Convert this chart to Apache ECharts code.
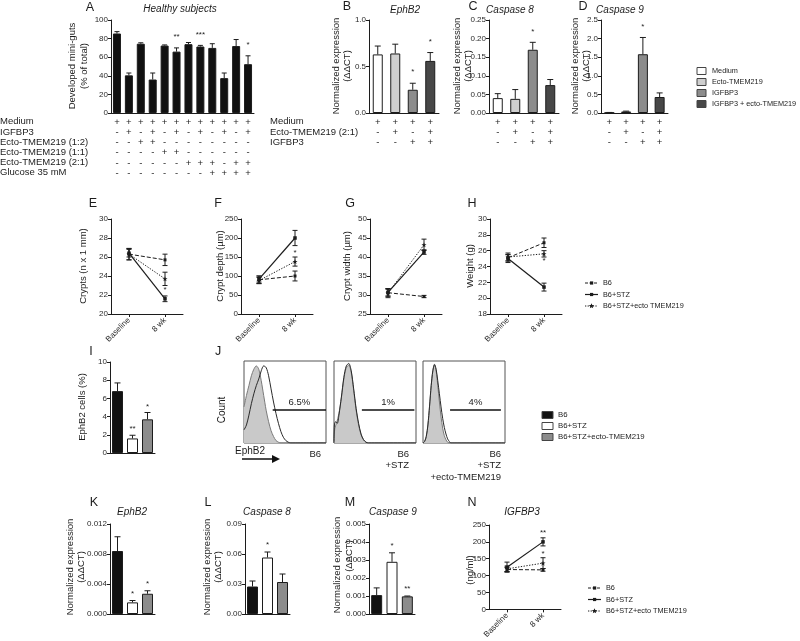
<!DOCTYPE html>
<html><head><meta charset="utf-8"><title>Figure</title>
<script src="https://cdn.jsdelivr.net/npm/echarts/dist/echarts.min.js"></script>
<style>html,body{margin:0;padding:0;background:#fff;}#chart{width:800px;height:641px;}</style>
</head><body><div id="chart"></div>
<script>
// ================= DATA =================
// Panel A
const aColumns = ['c1','c2','c3','c4','c5','c6','c7','c8','c9','c10','c11','c12'];
const aRowNames = ['Medium','IGFBP3','Ecto-TMEM219 (1:2)','Ecto-TMEM219 (1:1)','Ecto-TMEM219 (2:1)','Glucose 35 mM'];
const aSigns = [
  ['+','+','+','+','+','+','+','+','+','+','+','+'],
  ['-','+','-','+','-','+','-','+','-','+','-','+'],
  ['-','-','+','+','-','-','-','-','-','-','-','-'],
  ['-','-','-','-','+','+','-','-','-','-','-','-'],
  ['-','-','-','-','-','-','+','+','+','-','+','+'],
  ['-','-','-','-','-','-','-','-','+','+','+','+']
];
const aValues = [85.5, 40.5, 74.5, 36, 72.5, 66, 74, 71.5, 70, 37.5, 72, 52.5];
const aErrTop = [87.5, 43, 75.5, 43, 73.2, 70, 75.8, 72.7, 74.5, 43, 79, 61.5];
const aStars  = ['', '', '', '', '', '**', '', '***', '', '', '', '*'];
const aAxis = [0, 100, 20, 0];

// Panels B, C, D
const bcdColumns = ['m','e','i','ie'];
const bcdRowNames = ['Medium','Ecto-TMEM219 (2:1)','IGFBP3'];
const bcdSigns = [['+','+','+','+'],['-','+','-','+'],['-','-','+','+']];
const bcdLegend = ['Medium','Ecto-TMEM219','IGFBP3','IGFBP3 + ecto-TMEM219'];
const bValues = [0.63, 0.64, 0.25, 0.56];
const bErrTop = [0.72, 0.74, 0.32, 0.65];
const bStars  = ['', '', '*', '*'];
const bAxis = [0, 1, 0.5, 1];
const cValues = [0.040, 0.038, 0.170, 0.075];
const cErrTop = [0.052, 0.063, 0.190, 0.090];
const cStars  = ['', '', '*', ''];
const cAxis = [0, 0.25, 0.05, 2];
const dValues = [0.01, 0.04, 1.58, 0.43];
const dErrTop = [0.015, 0.05, 2.03, 0.54];
const dStars  = ['', '', '*', ''];
const dAxis = [0, 2.5, 0.5, 1];

// Panels E-H, N (time course)
const timeLabels = ['Baseline','8 wk'];
const groupNames = ['B6','B6+STZ','B6+STZ+ecto TMEM219'];
const eB6 = [26.3, 25.7],  eB6Sd = [0.6, 0.6];
const eSTZ = [26.4, 21.6], eSTZSd = [0.4, 0.3];
const eEcto = [26.3, 23.7], eEctoSd = [0.6, 0.7];
const eStarAt = [[1, 22.5]], eStarText = ['*'];
const eAxis = [20, 30, 2, 0];
const fB6 = [90, 100],  fB6Sd = [10, 13];
const fSTZ = [92, 200], fSTZSd = [8, 20];
const fEcto = [88, 138], fEctoSd = [8, 12];
const fStarAt = [[1, 160]], fStarText = ['*'];
const fAxis = [0, 250, 50, 0];
const gB6 = [30.6, 29.6],  gB6Sd = [0.9, 0.3];
const gSTZ = [30.7, 41.3], gSTZSd = [1.0, 0.6];
const gEcto = [30.5, 43.2], gEctoSd = [1.2, 1.5];
const gStarAt = [], gStarText = [];
const gAxis = [25, 50, 5, 0];
const hB6 = [25.1, 27.0],  hB6Sd = [0.4, 0.6];
const hSTZ = [25.0, 21.4], hSTZSd = [0.5, 0.5];
const hEcto = [25.2, 25.6], hEctoSd = [0.5, 0.4];
const hStarAt = [[1, 24.7]], hStarText = ['*'];
const hAxis = [18, 30, 2, 0];
const nB6 = [118, 117],  nB6Sd = [6, 4];
const nSTZ = [125, 200], nSTZSd = [15, 12];
const nEcto = [120, 137], nEctoSd = [8, 16];
const nStarAt = [[1, 228], [1, 165]], nStarText = ['**', '*'];
const nAxis = [0, 250, 50, 0];

// Panels I, K, L, M
const mouseGroups = ['B6','B6+STZ','B6+STZ+ecto-TMEM219'];
const iValues = [6.8, 1.6, 3.7],  iErrTop = [7.7, 1.95, 4.45], iStars = ['', '**', '*'];
const iAxis = [0, 10, 2, 0];
const kValues = [0.0084, 0.00155, 0.0027], kErrTop = [0.0103, 0.0018, 0.0031], kStars = ['', '*', '*'];
const kAxis = [0, 0.012, 0.004, 3];
const lValues = [0.0275, 0.0565, 0.032], lErrTop = [0.033, 0.062, 0.040], lStars = ['', '*', ''];
const lAxis = [0, 0.09, 0.03, 2];
const mValues = [0.00105, 0.0029, 0.00098], mErrTop = [0.00145, 0.0034, 0.00100], mStars = ['', '*', '**'];
const mAxis = [0, 0.005, 0.001, 3];

// Panel J histograms (x: % of box width, y: % of max count)
const jB6Fill = [[0,44],[3,58],[6,70],[9,82],[12,90],[15,94],[18,90],[21,76],[24,58],[27,40],[30,26],[33,15],[36,8],[39,3],[42,1],[45,0],[100,0]];
const jB6Line = [[0,16],[3,22],[6,34],[9,48],[12,60],[15,70],[18,78],[21,88],[24,94],[27,92],[30,82],[33,66],[36,50],[39,36],[42,24],[45,14],[48,7],[51,3],[54,1],[57,0],[100,0]];
const jSTZFill = [[0,2],[1,18],[3,24],[6,36],[9,55],[12,78],[15,92],[18,95],[21,86],[24,64],[27,40],[30,22],[33,10],[36,4],[39,1],[42,0],[100,0]];
const jSTZLine = [[0,0],[0.5,22],[2,26],[4,24],[6,34],[9,56],[12,80],[15,94],[18,97],[21,88],[24,66],[27,42],[30,24],[33,11],[36,4],[39,1],[42,0],[100,0]];
const jEctoFill = [[0,0],[2,2],[4,8],[6,22],[8,45],[10,70],[12,88],[14,95],[16,88],[18,70],[20,50],[22,32],[24,18],[26,9],[28,4],[30,1],[32,0],[100,0]];
const jEctoLine = [[0,0],[2,2],[4,8],[6,22],[8,45],[10,70],[12,88],[14,96],[16,90],[18,76],[20,60],[22,44],[24,30],[26,19],[28,11],[30,5],[32,2],[34,0],[100,0]];
const jGates = [[35, 100, 41], [34, 98, 41], [33, 95, 41]];
const jPercents = ['6.5%', '1%', '4%'];

// ================= BUILD =================
const FONT = '"Liberation Sans", Arial, Helvetica, sans-serif';
const INK = '#1c1c1c';
const font = (s, st) => (st ? st + ' ' : '') + s + 'px ' + FONT;
const grids = [], xAxis = [], yAxis = [], series = [], graphic = [];

function T(x, y, text, size, o) {
  o = o || {};
  graphic.push({type:'text', x: x, y: y, rotation: o.rot || 0, silent: true, z: 10,
    style: {text: text, font: font(size, o.italic ? 'italic' : ''), fill: o.fill || INK,
      align: o.align || 'left', verticalAlign: o.va || 'middle',
      textAlign: o.align || 'left', textVerticalAlign: o.va || 'middle'}});
}

function yAxisCfg(gi, r) {
  return {gridIndex: gi, type: 'value', min: r[0], max: r[1], interval: r[2],
    axisLine: {show: true, lineStyle: {color: INK, width: 1}},
    axisTick: {show: true, inside: false, length: 3, lineStyle: {color: INK, width: 1}},
    splitLine: {show: false},
    axisLabel: {fontSize: 8, color: '#2a2a2a', fontFamily: FONT, margin: 3,
      formatter: v => Number(v).toFixed(r[3])}};
}

function barErrRender(capW, stars, gap, starSize) {
  return function (params, api) {
    const i = api.value(0), v = api.value(1), e = api.value(2);
    const p0 = api.coord([i, v]), p1 = api.coord([i, e]);
    const st = {stroke: INK, lineWidth: 1};
    const ch = [];
    if (e > v) {
      ch.push({type: 'line', shape: {x1: p0[0], y1: p0[1], x2: p1[0], y2: p1[1]}, style: st});
      ch.push({type: 'line', shape: {x1: p1[0] - capW / 2, y1: p1[1], x2: p1[0] + capW / 2, y2: p1[1]}, style: st});
    }
    const s = stars[params.dataIndex];
    if (s) ch.push({type: 'text', x: p1[0], y: p1[1] - gap,
      style: {text: s, font: font(starSize), fill: INK, align: 'center', verticalAlign: 'bottom', textAlign: 'center', textVerticalAlign: 'bottom'}});
    return {type: 'group', children: ch};
  };
}

function barPanel(box, cats, vals, errTop, stars, colors, yr, signs, barW, capW, gap) {
  const gi = grids.push(box) - 1;
  xAxis.push({gridIndex: gi, type: 'category', data: cats, boundaryGap: true,
    axisLine: {show: true, lineStyle: {color: INK, width: 1}}, axisTick: {show: false},
    axisLabel: signs ? {show: true, interval: 0, fontSize: 9.5, color: INK, fontFamily: FONT, lineHeight: 10.2, margin: 4,
      formatter: (v, i) => signs.map(r => r[i]).join('\n')} : {show: false}});
  yAxis.push(yAxisCfg(gi, yr));
  const xi = xAxis.length - 1, yi = yAxis.length - 1;
  series.push({type: 'bar', xAxisIndex: xi, yAxisIndex: yi, barWidth: barW, silent: true,
    data: vals.map((v, i) => ({value: v, itemStyle: {color: colors[i], borderColor: INK, borderWidth: 1}}))});
  series.push({type: 'custom', xAxisIndex: xi, yAxisIndex: yi, silent: true, z: 5,
    data: vals.map((v, i) => [i, v, errTop[i]]), renderItem: barErrRender(capW, stars, gap, 8)});
}

const SYM = ['rect', 'rect', 'path://M0,-10L2.35,-3.24L9.51,-3.09L3.8,1.24L5.88,8.09L0,4L-5.88,8.09L-3.8,1.24L-9.51,-3.09L-2.35,-3.24Z'];
const SYMSIZE = [3, 3.5, 5];
const DASH = [[4, 2], 'solid', [1.3, 1.5]];
const LW = [1, 1.2, 1];

function sdRender(capW) {
  return function (params, api) {
    const i = api.value(0), m = api.value(1), sd = api.value(2);
    const hi = api.coord([i, m + sd]), lo = api.coord([i, m - sd]);
    const st = {stroke: INK, lineWidth: 1};
    return {type: 'group', children: [
      {type: 'line', shape: {x1: hi[0], y1: hi[1], x2: lo[0], y2: lo[1]}, style: st},
      {type: 'line', shape: {x1: hi[0] - capW / 2, y1: hi[1], x2: hi[0] + capW / 2, y2: hi[1]}, style: st},
      {type: 'line', shape: {x1: lo[0] - capW / 2, y1: lo[1], x2: lo[0] + capW / 2, y2: lo[1]}, style: st}]};
  };
}
function starRender(texts) {
  return function (params, api) {
    const p = api.coord([api.value(0), api.value(1)]);
    return {type: 'text', x: p[0], y: p[1],
      style: {text: texts[params.dataIndex], font: font(8), fill: INK, align: 'center', verticalAlign: 'middle', textAlign: 'center', textVerticalAlign: 'middle'}};
  };
}

function linePanel(box, yr, groups, starAt, starText) {
  const gi = grids.push(box) - 1;
  xAxis.push({gridIndex: gi, type: 'category', data: timeLabels, boundaryGap: true,
    axisLine: {show: true, lineStyle: {color: INK, width: 1}},
    axisTick: {show: true, alignWithLabel: true, length: 3, lineStyle: {color: INK}},
    axisLabel: {show: true, interval: 0, rotate: 45, fontSize: 8, color: '#2a2a2a', fontFamily: FONT, margin: 5}});
  yAxis.push(yAxisCfg(gi, yr));
  const xi = xAxis.length - 1, yi = yAxis.length - 1;
  groups.forEach((g, k) => series.push({type: 'line', xAxisIndex: xi, yAxisIndex: yi, data: g[0], silent: true,
    symbol: SYM[k], symbolSize: SYMSIZE[k], itemStyle: {color: INK}, lineStyle: {color: INK, width: LW[k], type: DASH[k]}, z: 3}));
  series.push({type: 'custom', xAxisIndex: xi, yAxisIndex: yi, silent: true, z: 4,
    data: [].concat(...groups.map(g => g[0].map((m, i) => [i, m, g[1][i]]))), renderItem: sdRender(5)});
  if (starAt.length) series.push({type: 'custom', xAxisIndex: xi, yAxisIndex: yi, silent: true, z: 6,
    data: starAt, renderItem: starRender(starText)});
}

function histPanel(box, fill, line, gate, pct) {
  const gi = grids.push(Object.assign({show: true, borderColor: '#555', borderWidth: 1, backgroundColor: 'transparent'}, box)) - 1;
  xAxis.push({gridIndex: gi, type: 'value', min: 0, max: 100, show: false});
  yAxis.push({gridIndex: gi, type: 'value', min: 0, max: 100, show: false});
  const xi = xAxis.length - 1, yi = yAxis.length - 1;
  series.push({type: 'line', xAxisIndex: xi, yAxisIndex: yi, data: fill, smooth: 0.3, symbol: 'none', silent: true,
    lineStyle: {color: '#7a7a7a', width: 1}, areaStyle: {color: '#c9c9c9', opacity: 1}, z: 2});
  series.push({type: 'line', xAxisIndex: xi, yAxisIndex: yi, data: line, smooth: 0.3, symbol: 'none', silent: true,
    lineStyle: {color: '#2a2a2a', width: 1}, z: 3,
    markLine: {symbol: 'none', silent: true, animation: false,
      lineStyle: {color: '#111', width: 1.5, type: 'solid'},
      label: {show: true, position: 'insideMiddleTop', formatter: pct, fontSize: 9.5, color: INK, fontFamily: FONT, distance: 2},
      data: [[{coord: [gate[0], gate[2]]}, {coord: [gate[1], gate[2]]}]]}});
}

// ---- Row 1 ----
barPanel({left: 111, top: 20, width: 143, height: 93}, aColumns, aValues, aErrTop, aStars,
  aValues.map(() => '#111'), aAxis, aSigns, 8, 5, 7);
const bcdColors = ['#ffffff', '#cfcfcf', '#8c8c8c', '#474747'];
barPanel({left: 369, top: 20, width: 70, height: 93}, bcdColumns, bValues, bErrTop, bStars, bcdColors, bAxis, bcdSigns, 10, 6, 7);
barPanel({left: 489, top: 20, width: 70, height: 93}, bcdColumns, cValues, cErrTop, cStars, bcdColors, cAxis, bcdSigns, 10, 6, 7);
barPanel({left: 601, top: 20, width: 67, height: 93}, bcdColumns, dValues, dErrTop, dStars, bcdColors, dAxis, bcdSigns, 10, 6, 7);

// ---- Row 2 ----
linePanel({left: 111, top: 219, width: 72, height: 95}, eAxis, [[eB6, eB6Sd], [eSTZ, eSTZSd], [eEcto, eEctoSd]], eStarAt, eStarText);
linePanel({left: 241, top: 219, width: 72, height: 95}, fAxis, [[fB6, fB6Sd], [fSTZ, fSTZSd], [fEcto, fEctoSd]], fStarAt, fStarText);
linePanel({left: 370, top: 219, width: 72, height: 95}, gAxis, [[gB6, gB6Sd], [gSTZ, gSTZSd], [gEcto, gEctoSd]], gStarAt, gStarText);
linePanel({left: 490, top: 219, width: 72, height: 95}, hAxis, [[hB6, hB6Sd], [hSTZ, hSTZSd], [hEcto, hEctoSd]], hStarAt, hStarText);

// ---- Row 3 ----
const mouseColors = ['#111111', '#ffffff', '#8c8c8c'];
barPanel({left: 110, top: 362, width: 45, height: 91}, mouseGroups, iValues, iErrTop, iStars, mouseColors, iAxis, null, 11, 6, 2);
histPanel({left: 244, top: 361, width: 82, height: 82}, jB6Fill, jB6Line, jGates[0], jPercents[0]);
histPanel({left: 334, top: 361, width: 82, height: 82}, jSTZFill, jSTZLine, jGates[1], jPercents[1]);
histPanel({left: 423, top: 361, width: 82, height: 82}, jEctoFill, jEctoLine, jGates[2], jPercents[2]);

// ---- Row 4 ----
barPanel({left: 110, top: 524, width: 45, height: 90}, mouseGroups, kValues, kErrTop, kStars, mouseColors, kAxis, null, 11, 6, 3);
barPanel({left: 245, top: 524, width: 45, height: 90}, mouseGroups, lValues, lErrTop, lStars, mouseColors, lAxis, null, 11, 6, 3);
barPanel({left: 369, top: 524, width: 46, height: 90}, mouseGroups, mValues, mErrTop, mStars, mouseColors, mAxis, null, 11, 6, 3);
linePanel({left: 489, top: 525, width: 72, height: 90}, nAxis, [[nB6, nB6Sd], [nSTZ, nSTZSd], [nEcto, nEctoSd]], nStarAt, nStarText);

// ---- Texts ----
const R90 = Math.PI / 2;
[['A', 90, 8], ['B', 347, 7], ['C', 473, 7], ['D', 583, 7], ['E', 93, 204], ['F', 218, 204], ['G', 350, 204], ['H', 472, 204],
 ['I', 91, 352], ['J', 218, 352], ['K', 94, 503], ['L', 208, 503], ['M', 350, 503], ['N', 472, 503]]
  .forEach(p => T(p[1], p[2], p[0], 12.5, {align: 'center'}));
T(180, 9, 'Healthy subjects', 10, {align: 'center', italic: true});
T(405, 10, 'EphB2', 10, {align: 'center', italic: true});
T(510, 10, 'Caspase 8', 10, {align: 'center', italic: true});
T(620, 10, 'Caspase 9', 10, {align: 'center', italic: true});
T(132, 512, 'EphB2', 10, {align: 'center', italic: true});
T(267, 512, 'Caspase 8', 10, {align: 'center', italic: true});
T(393, 512, 'Caspase 9', 10, {align: 'center', italic: true});
T(522, 512, 'IGFBP3', 10, {align: 'center', italic: true});

// y-axis titles
T(72, 66, 'Developed mini-guts', 9.5, {align: 'center', rot: R90});
T(84, 66, '(% of total)', 9.5, {align: 'center', rot: R90});
[[336, 347], [457, 468], [575, 586]].forEach(p => {
  T(p[0], 66, 'Normalized expression', 9.5, {align: 'center', rot: R90});
  T(p[1], 66, '(ΔΔCT)', 9.5, {align: 'center', rot: R90});
});
T(83, 266, 'Crypts (n x 1 mm)', 9.5, {align: 'center', rot: R90});
T(220, 266, 'Crypt depth (µm)', 9.5, {align: 'center', rot: R90});
T(347, 266, 'Crypt width (µm)', 9.5, {align: 'center', rot: R90});
T(470, 266, 'Weight (g)', 9.5, {align: 'center', rot: R90});
T(82, 407, 'EphB2 cells (%)', 9.5, {align: 'center', rot: R90});
T(70, 567, 'Normalized expression', 9.5, {align: 'center', rot: R90});
T(81, 567, '(ΔΔCT)', 9.5, {align: 'center', rot: R90});
T(207, 567, 'Normalized expression', 9.5, {align: 'center', rot: R90});
T(218, 567, '(ΔΔCT)', 9.5, {align: 'center', rot: R90});
T(337, 565, 'Normalized expression', 9.5, {align: 'center', rot: R90});
T(349, 556, '(ΔΔCT)', 9.5, {align: 'center', rot: R90});
T(470, 570, '(ng/ml)', 9.5, {align: 'center', rot: R90});

// table row headers
aRowNames.forEach((n, k) => T(0, 121.7 + k * 10.2, n, 9.5));
bcdRowNames.forEach((n, k) => T(270, 121.7 + k * 10.2, n, 9.5));

// Row-1 legend
bcdLegend.forEach((name, k) => {
  const cy = 71 + k * 11;
  graphic.push({type: 'rect', silent: true, shape: {x: 697, y: cy - 3.5, width: 9, height: 7}, style: {fill: bcdColors[k], stroke: '#444', lineWidth: 1}});
  T(712, cy, name, 7.3);
});

// line legends
function starPts(cx, cy, r) {
  const pts = [];
  for (let k = 0; k < 10; k++) { const a = -Math.PI / 2 + k * Math.PI / 5; const rr = k % 2 ? r * 0.45 : r; pts.push([cx + rr * Math.cos(a), cy + rr * Math.sin(a)]); }
  return pts;
}
function lineLegend(x, y0, dy) {
  groupNames.forEach((name, k) => {
    const cy = y0 + k * dy;
    const st = {stroke: INK, lineWidth: LW[k]};
    if (k === 0) st.lineDash = [3, 1.5];
    if (k === 2) st.lineDash = [1.3, 1.3];
    graphic.push({type: 'line', silent: true, shape: {x1: x, y1: cy, x2: x + 13, y2: cy}, style: st});
    if (k < 2) graphic.push({type: 'rect', silent: true, shape: {x: x + 5, y: cy - 1.6, width: 3.2, height: 3.2}, style: {fill: INK}});
    else graphic.push({type: 'polygon', silent: true, shape: {points: starPts(x + 6.5, cy, 2.8)}, style: {fill: INK}});
    T(x + 18, cy, name, 7.3);
  });
}
lineLegend(585, 283, 11.5);
lineLegend(588, 588, 11.5);

// Row-3 legend
mouseGroups.forEach((name, k) => {
  const cy = 415 + k * 11;
  graphic.push({type: 'rect', silent: true, shape: {x: 542, y: cy - 3.5, width: 11, height: 7}, style: {fill: mouseColors[k], stroke: '#444', lineWidth: 1}});
  T(558, cy, name, 7.8);
});

// J annotations
T(222, 410, 'Count', 10, {align: 'center', rot: R90});
T(250, 451, 'EphB2', 10, {align: 'center'});
graphic.push({type: 'line', silent: true, shape: {x1: 242, y1: 459, x2: 273, y2: 459}, style: {stroke: '#111', lineWidth: 1.5}});
graphic.push({type: 'polygon', silent: true, shape: {points: [[272, 455], [280, 459], [272, 463]]}, style: {fill: '#111'}});
T(321, 454, 'B6', 9.5, {align: 'right'});
T(409, 454, 'B6', 9.5, {align: 'right'});
T(409, 465, '+STZ', 9.5, {align: 'right'});
T(501, 454, 'B6', 9.5, {align: 'right'});
T(501, 465, '+STZ', 9.5, {align: 'right'});
T(501, 477, '+ecto-TMEM219', 9.5, {align: 'right'});

const chart = echarts.init(document.getElementById('chart'), null, {renderer: 'canvas', width: 800, height: 641});
chart.setOption({
  animation: false,
  backgroundColor: '#ffffff',
  textStyle: {fontFamily: FONT},
  grid: grids, xAxis: xAxis, yAxis: yAxis, series: series, graphic: graphic
});
</script></body></html>
